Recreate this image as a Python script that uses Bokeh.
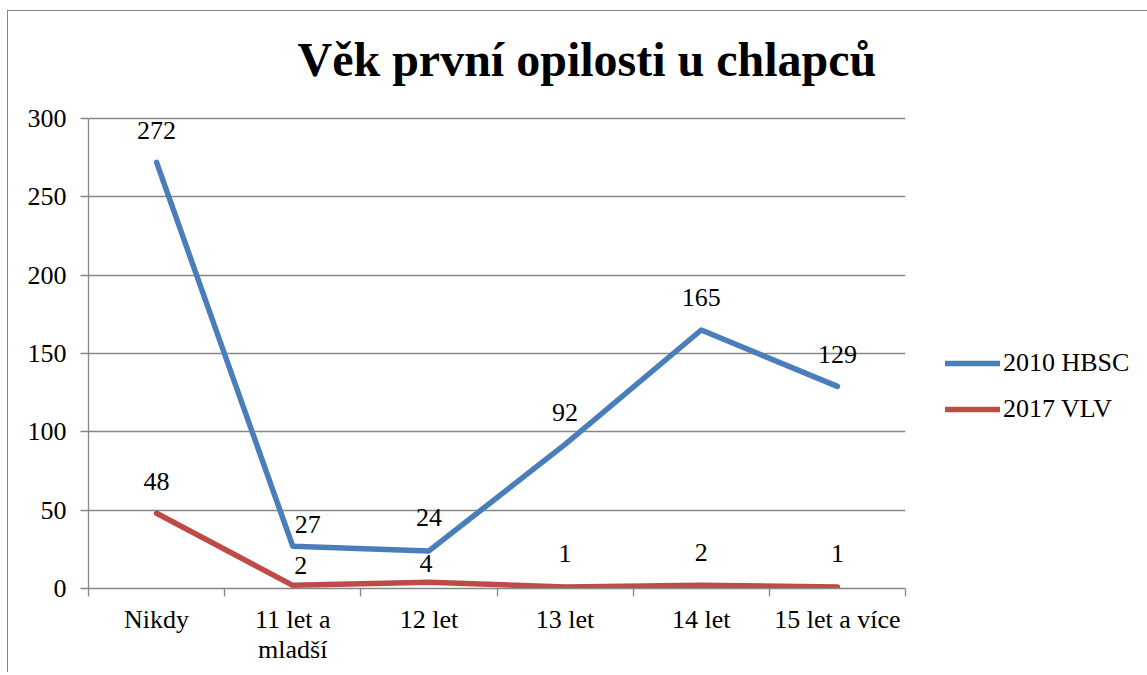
from bokeh.plotting import figure
from bokeh.models import (FixedTicker, Legend, LegendItem, ColumnDataSource,
                          Range1d, Label)
from bokeh.core.properties import value
from bokeh.embed import file_html
from bokeh.resources import INLINE

# ---- data ----
categories = ["Nikdy", "11 let a\nmladší", "12 let", "13 let", "14 let", "15 let a více"]
hbsc_2010 = [272, 27, 24, 92, 165, 129]
vlv_2017 = [48, 2, 4, 1, 2, 1]
y_ticks = [0, 50, 100, 150, 200, 250, 300]
y_max = 300
series_names = ["2010 HBSC", "2017 VLV"]
title_text = "Věk první opilosti u chlapců"

# ---- style ----
FONT = "Liberation Serif"
GRAY = "#868686"
BLUE = "#4A7EBB"
RED = "#BE4B48"
FRAME_W = 817          # px width of plot area
PLOT_H = 470           # px from 0 to 300
HEAD_H = 107           # px of head room above the 300 line (title space)
FRAME_H = PLOT_H + HEAD_H
TITLE_LIFT = 59        # px of title anchor above the 300 line
# label offsets (px) per point, style only
hbsc_dx = [0, 15, 0, 0, 0, 0]
hbsc_dy = [-32, -22, -33, -32, -33, -32]
vlv_dx = [0, 8, -3, 0, 0, 0]
vlv_dy = [-32, -20, -19, -33, -33, -33]

xs = [i + 0.5 for i in range(len(categories))]
px_per_x = FRAME_W / len(categories)
px_per_y = PLOT_H / y_max

p = figure(frame_width=FRAME_W, frame_height=FRAME_H,
           x_range=Range1d(0, len(categories)),
           y_range=Range1d(0, y_max * FRAME_H / PLOT_H),
           output_backend="svg", toolbar_location=None,
           min_border_left=80, min_border_right=237, min_border_top=0,
           min_border_bottom=84)
p.styles = {"margin-left": "7px", "margin-top": "10px",
            "border-left": "1.5px solid #868686",
            "border-top": "1.5px solid #868686",
            "border-right": "1.5px solid #868686"}
p.outline_line_color = None
p.background_fill_color = "white"
p.border_fill_color = "white"

# title (inside the head room of the frame)
p.add_layout(Label(x=209 / px_per_x, y=y_max + TITLE_LIFT / px_per_y, text=title_text,
                   text_font=FONT, text_font_size="48px", text_font_style="bold",
                   text_color="black", text_align="left", text_baseline="alphabetic"))

# y axis
p.yaxis.ticker = FixedTicker(ticks=y_ticks)
p.yaxis.bounds = (0, y_max)
p.yaxis.axis_line_color = GRAY
p.yaxis.axis_line_width = 1.3
p.yaxis.major_tick_line_color = GRAY
p.yaxis.major_tick_line_width = 1.3
p.yaxis.major_tick_out = 8
p.yaxis.major_tick_in = 0
p.yaxis.minor_tick_line_color = None
p.yaxis.major_label_text_font = FONT
p.yaxis.major_label_text_font_size = "26px"
p.yaxis.major_label_text_color = "black"
p.yaxis.major_label_standoff = 14

# x axis: labels at centers, ticks at boundaries (minor ticks)
p.xaxis.ticker = FixedTicker(ticks=xs, minor_ticks=list(range(len(categories) + 1)))
p.xaxis.major_label_overrides = {x: c for x, c in zip(xs, categories)}
p.xaxis.axis_line_color = GRAY
p.xaxis.axis_line_width = 1.3
p.xaxis.major_tick_line_color = None
p.xaxis.major_tick_out = 0
p.xaxis.major_tick_in = 0
p.xaxis.minor_tick_line_color = GRAY
p.xaxis.minor_tick_line_width = 1.3
p.xaxis.minor_tick_out = 8
p.xaxis.minor_tick_in = 0
p.xaxis.major_label_text_font = FONT
p.xaxis.major_label_text_font_size = "26px"
p.xaxis.major_label_text_color = "black"
p.xaxis.major_label_text_line_height = 1.05
p.xaxis.major_label_standoff = 8

p.xgrid.grid_line_color = None
p.ygrid.ticker = FixedTicker(ticks=y_ticks)
p.ygrid.grid_line_color = GRAY
p.ygrid.grid_line_width = 1.3

src = ColumnDataSource(dict(x=xs, a=hbsc_2010, b=vlv_2017,
                            ta=[str(v) for v in hbsc_2010], tb=[str(v) for v in vlv_2017],
                            adx=hbsc_dx, ady=hbsc_dy, bdx=vlv_dx, bdy=vlv_dy))

r1 = p.line("x", "a", source=src, line_color=BLUE, line_width=5.5, line_cap="round", line_join="round")
r2 = p.line("x", "b", source=src, line_color=RED, line_width=5.5, line_cap="round", line_join="round")

p.text("x", "a", text="ta", source=src, x_offset="adx", y_offset="ady",
       text_align="center", text_baseline="alphabetic",
       text_font=value(FONT), text_font_size="26px", text_color="black")
p.text("x", "b", text="tb", source=src, x_offset="bdx", y_offset="bdy",
       text_align="center", text_baseline="alphabetic",
       text_font=value(FONT), text_font_size="26px", text_color="black")

legend = Legend(items=[LegendItem(label=series_names[0], renderers=[r1]),
                       LegendItem(label=series_names[1], renderers=[r2])],
                location=(40, 164), orientation="vertical")
legend.label_text_font = FONT
legend.label_text_font_size = "26px"
legend.label_text_color = "black"
legend.glyph_width = 55
legend.glyph_height = 30
legend.label_height = 30
legend.label_standoff = 3
legend.spacing = 16
legend.padding = 0
legend.margin = 0
legend.border_line_color = None
legend.background_fill_alpha = 0
p.add_layout(legend, "right")

open("out.html", "w").write(file_html(p, INLINE))
